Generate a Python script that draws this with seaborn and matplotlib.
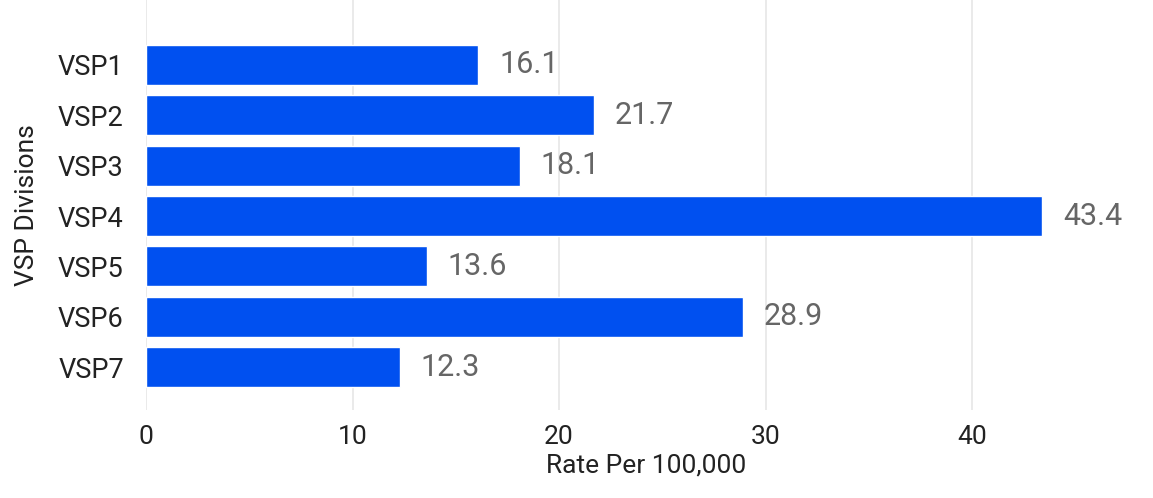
import pandas as pd
import matplotlib.pyplot as plt
import seaborn as sns

divisions = ["VSP1", "VSP2", "VSP3", "VSP4", "VSP5", "VSP6", "VSP7"]
rates = [16.1, 21.7, 18.1, 43.4, 13.6, 28.9, 12.3]
x_ticks = [0, 10, 20, 30, 40]

df = pd.DataFrame({"Division": divisions, "Rate": rates})

sns.set_style("whitegrid")
plt.rcParams["font.family"] = ["Roboto", "DejaVu Sans"]

fig = plt.figure(figsize=(11.53, 4.98), dpi=100)
ax = fig.add_axes([0.1266, 0.177, 0.867, 0.823])

sns.barplot(data=df, x="Rate", y="Division", color="#0050F0", saturation=1,
            width=0.8, ax=ax)

for i, v in enumerate(rates):
    ax.text(v + 1.0, i, f"{v}", va="center", ha="left", fontsize=22, color="#666666")

ax.set_xlim(0, 48.4)
ax.set_ylim(6.85, -1.29)
ax.set_xticks(x_ticks)
ax.tick_params(axis="x", labelsize=19, colors="#222222", pad=11, length=0)
ax.tick_params(axis="y", labelsize=19.5, colors="#222222", pad=16, length=0)
ax.grid(axis="y", visible=False)
ax.grid(axis="x", color="#e6e6e6", linewidth=1.2)
for s in ax.spines.values():
    s.set_visible(False)
ax.set_xlabel("Rate Per 100,000", fontsize=19, color="#222222", labelpad=3)
ax.set_ylabel("VSP Divisions", fontsize=19, color="#222222", labelpad=14)

fig.savefig("out.png", dpi=100)
